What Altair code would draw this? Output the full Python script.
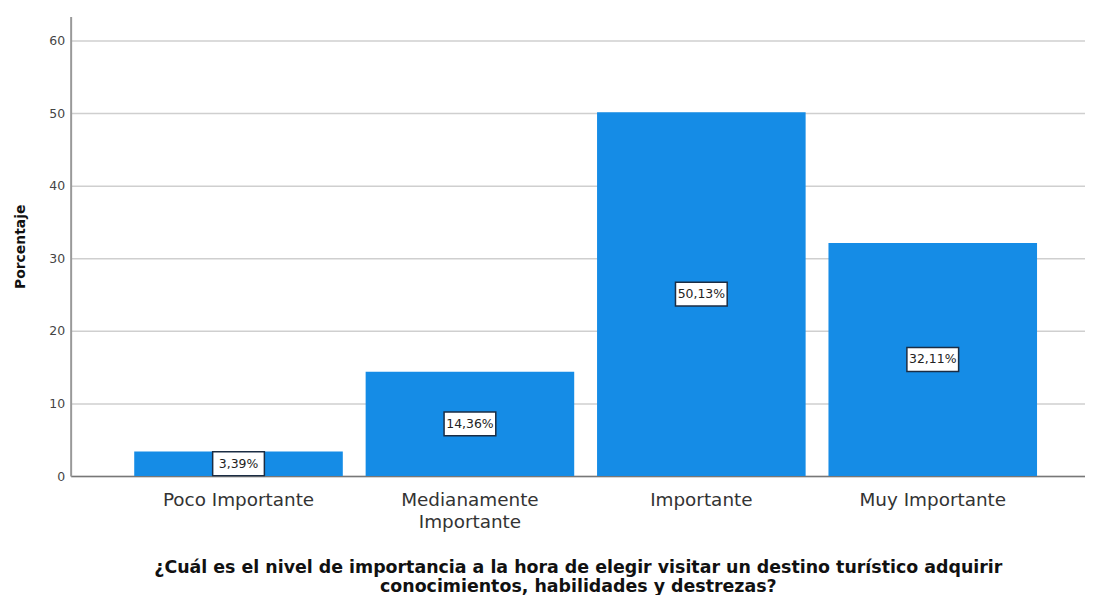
import altair as alt
import pandas as pd

categories = ["Poco Importante", "Medianamente Importante", "Importante", "Muy Importante"]
values = [3.39, 14.36, 50.13, 32.11]
labels = ["3,39%", "14,36%", "50,13%", "32,11%"]

df = pd.DataFrame({"cat": categories, "val": values, "lab": labels})
df["mid"] = df["val"] / 2

FONT = "DejaVu Sans"

x = alt.X(
    "cat:N",
    sort=categories,
    scale=alt.Scale(paddingInner=0.0987, paddingOuter=0.241, align=0.57),
    axis=alt.Axis(
        title=["¿Cuál es el nivel de importancia a la hora de elegir visitar un destino turístico adquirir",
               "conocimientos, habilidades y destrezas?"],
        titleFont=FONT, titleFontSize=17.5, titleFontWeight="bold", titleColor="#111",
        titlePadding=28, titleLineHeight=19,
        labelAngle=0, labelFont=FONT, labelFontSize=18.5, labelColor="#333",
        labelPadding=15, labelLineHeight=22,
        labelExpr="datum.value == 'Medianamente Importante' ? ['Medianamente', 'Importante'] : datum.label",
        ticks=False, domainColor="#777", domainWidth=1.5,
    ),
)

y_scale = alt.Scale(domain=[0, 63.3], nice=False)

bars = alt.Chart(df).mark_bar(color="#158ce6").encode(
    x=x,
    y=alt.Y(
        "val:Q",
        scale=y_scale,
        axis=alt.Axis(
            title="Porcentaje", titleFont=FONT, titleFontSize=14, titleFontWeight="bold",
            titleColor="#111", titlePadding=22,
            values=[0, 10, 20, 30, 40, 50, 60], labelFont=FONT, labelFontSize=12.5,
            labelColor="#444", ticks=False, labelPadding=6,
            grid=True, gridColor="#cfcfcf", gridWidth=1.5,
            domainColor="#999", domainWidth=2,
        ),
    ),
)

boxes = alt.Chart(df).mark_point(
    shape="M-1,-0.46L1,-0.46L1,0.46L-1,0.46Z",
    filled=True, fill="white", stroke="#1b2d44", strokeWidth=1.5, opacity=1,
).encode(
    x=alt.X("cat:N", sort=categories),
    y=alt.Y("mid:Q", scale=y_scale),
    size=alt.value(2704),
)

texts = alt.Chart(df).mark_text(font=FONT, fontSize=12.5, color="#222").encode(
    x=alt.X("cat:N", sort=categories),
    y=alt.Y("mid:Q", scale=y_scale),
    text="lab:N",
)

chart = (bars + boxes + texts).properties(
    width=1020, height=462,
    padding={"left": 63, "top": 7, "right": 0, "bottom": 120},
    autosize=alt.AutoSizeParams(type="none"),
    background="white",
).configure_view(stroke=None)

chart.save("out.html", embed_options={"renderer": "svg", "actions": False})
